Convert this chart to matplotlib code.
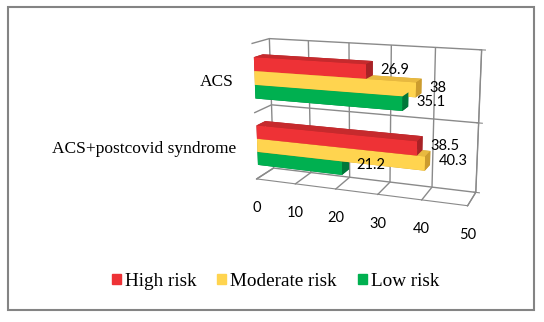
import matplotlib.pyplot as plt
from matplotlib.patches import Rectangle
from mpl_toolkits.mplot3d import proj3d

# data (categories bottom -> top, as Excel draws them)
categories = ['ACS+postcovid syndrome', 'ACS']
series = ['High risk', 'Moderate risk', 'Low risk']
high_risk = [38.5, 26.9]
moderate_risk = [40.3, 38.0]
low_risk = [21.2, 35.1]
value_ticks = [0, 10, 20, 30, 40, 50]

front_col = ['#ee3236', '#ffd44f', '#00b050']
top_col = ['#c62a2d', '#e8b940', '#00953f']
side_col = ['#a82226', '#cc9c2e', '#00783a']
gray = '#8a8a8a'

plt.rcParams['grid.color'] = gray
plt.rcParams['grid.linewidth'] = 1.0
plt.rcParams['axes.edgecolor'] = gray

fig = plt.figure(figsize=(5.44, 3.22), dpi=100)
# view fitted to the Excel 3D bar chart
ax = fig.add_axes([0.4211, 0.2175, 0.4804, 0.8116], projection='3d')
ax.view_init(elev=14.22, azim=-69.91)
ax.set_proj_type('persp', focal_length=0.505)
ax.set_box_aspect((1, 0.1725, 0.637), zoom=1)

# one bar3d call so all faces get depth-sorted together
bar_h = 0.2
bar_y, bar_d = 0.1, 0.5
xs, ys, zs, dxs, dzs, colors = [], [], [], [], [], []
for i in range(len(categories)):
    for j, vals in enumerate([high_risk, moderate_risk, low_risk]):
        xs.append(0)
        ys.append(bar_y)
        zs.append(i + 0.2 + (2 - j) * bar_h)
        dxs.append(vals[i])
        dzs.append(bar_h)
        # face order: bottom, top, front, back, left, right
        colors += [side_col[j], top_col[j], front_col[j], side_col[j], side_col[j], side_col[j]]
ax.bar3d(xs, ys, zs, dxs, bar_d, dzs, color=colors, shade=False, linewidth=0)

ax.set_xlim(0, 50)
ax.set_ylim(0, 1)
ax.set_zlim(0, 2)
ax.set_xticks(value_ticks)
ax.set_yticks([])
ax.set_zticks([0, 1, 2])
ax.set_xticklabels([])
ax.set_zticklabels([])
for axis in (ax.xaxis, ax.yaxis, ax.zaxis):
    axis.set_pane_color((1, 1, 1, 0))
    axis.pane.set_edgecolor(gray)
    axis.line.set_color(gray)
ax.tick_params(colors=gray)

# text is placed at projected data points
M = ax.get_proj()
def at(x, y, z):
    xp, yp, _ = proj3d.proj_transform(x, y, z, M)
    return xp, yp

num_font = dict(family='Lato', fontsize=10.5, color='black')
for v in value_ticks:
    ax.annotate(str(v), at(v, 0, 0), xytext=(0, -29.5), textcoords='offset pixels',
                ha='center', va='center', annotation_clip=False, **num_font)

for i, cat in enumerate(categories):
    ax.annotate(cat, at(0, 0, i + 0.5), xytext=(-19, -3), textcoords='offset pixels',
                ha='right', va='center', annotation_clip=False,
                family='Liberation Serif', fontsize=12.5)
    for j, vals in enumerate([high_risk, moderate_risk, low_risk]):
        zc = i + 0.2 + (2 - j) * bar_h + bar_h / 2
        ax.annotate(f'{vals[i]:g}', at(vals[i], bar_y + bar_d / 2, zc), xytext=(11, 0),
                    textcoords='offset pixels', ha='left', va='center',
                    annotation_clip=False, **num_font)

handles = [Rectangle((0, 0), 1, 1, color=c) for c in front_col]
fig.legend(handles, series, loc='center', bbox_to_anchor=(0.5065, 0.127), ncol=3,
           frameon=False, prop=dict(family='Liberation Serif', size=13.8),
           handlelength=0.47, handleheight=0.47, handletextpad=0.2, columnspacing=1.1)

fig.add_artist(Rectangle((0.0147, 0.037), 0.967, 0.941, transform=fig.transFigure,
                         fill=False, edgecolor='#848484', linewidth=1.5))

fig.savefig('out.png', dpi=100)
